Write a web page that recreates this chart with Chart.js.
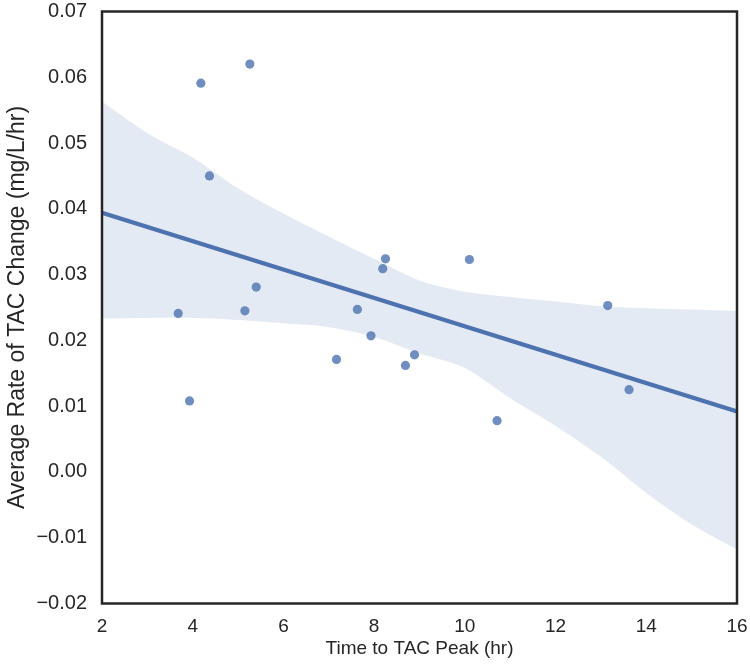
<!DOCTYPE html>
<html>
<head>
<meta charset="utf-8">
<script src="https://cdn.jsdelivr.net/npm/chart.js@4"></script>
<style>
  html, body { margin: 0; padding: 0; background: #ffffff; }
  #wrap { width: 750px; height: 672px; }
</style>
</head>
<body>
<div id="wrap"><canvas id="c" width="750" height="672"></canvas></div>
<script>
// ---- data ----
const peakHours = [4.18, 5.26, 4.37, 3.68, 3.93, 5.15, 5.40, 7.17, 7.63, 7.93, 8.19, 8.25, 8.69, 8.89, 10.10, 10.71, 13.15, 13.62];
const rateChange = [0.0591, 0.0620, 0.0450, 0.0241, 0.0108, 0.0245, 0.0281, 0.0171, 0.0247, 0.0207, 0.0309, 0.0324, 0.0162, 0.0178, 0.0323, 0.0078, 0.0253, 0.0125];

const fitX = [2, 16];
const fitY = [0.0394, 0.0092];

const bandX = [2, 3, 4, 5, 6, 7, 8, 9, 10, 11, 12, 13, 14, 15, 16];
const bandUpper = [0.0563, 0.0515, 0.0478, 0.0431, 0.0393, 0.0358, 0.0324, 0.0291, 0.0274, 0.0266, 0.0259, 0.0252, 0.0249, 0.0247, 0.0245];
const bandLower = [0.0233, 0.0234, 0.0234, 0.0231, 0.0226, 0.0220, 0.0205, 0.0180, 0.0158, 0.0112, 0.0070, 0.0023, -0.0032, -0.0080, -0.0118];

const xTicks = [2, 4, 6, 8, 10, 12, 14, 16];
const yTicks = [-0.02, -0.01, 0.00, 0.01, 0.02, 0.03, 0.04, 0.05, 0.06, 0.07];

const xTitle = 'Time to TAC Peak (hr)';
const yTitle = 'Average Rate of TAC Change (mg/L/hr)';

// ---- build datasets ----
const pts = peakHours.map((x, i) => ({ x: x, y: rateChange[i] }));
const fitPts = fitX.map((x, i) => ({ x: x, y: fitY[i] }));
const upPts = bandX.map((x, i) => ({ x: x, y: bandUpper[i] }));
const loPts = bandX.map((x, i) => ({ x: x, y: bandLower[i] }));

const INK = '#262626';
const FONT = "'Liberation Sans', Arial, Helvetica, sans-serif";

const frame = {
  id: 'frame',
  afterDatasetsDraw(chart) {
    const a = chart.chartArea, ctx = chart.ctx;
    ctx.save();
    ctx.strokeStyle = INK;
    ctx.lineWidth = 2.5;
    ctx.strokeRect(a.left, a.top, a.right - a.left, a.bottom - a.top);
    ctx.restore();
  }
};

new Chart(document.getElementById('c'), {
  type: 'line',
  data: {
    datasets: [
      { label: 'ci upper', data: upPts, borderWidth: 0, pointRadius: 0, fill: '+1',
        backgroundColor: 'rgba(76,114,176,0.15)', borderColor: 'rgba(0,0,0,0)', order: 3, tension: 0.3 },
      { label: 'ci lower', data: loPts, borderWidth: 0, pointRadius: 0, fill: false,
        borderColor: 'rgba(0,0,0,0)', order: 4, tension: 0.3 },
      { label: 'fit', data: fitPts, borderColor: '#4C72B0', borderWidth: 4.2, pointRadius: 0,
        fill: false, order: 2 },
      { label: 'points', data: pts, showLine: false, pointRadius: 4.6, pointHoverRadius: 4.6,
        pointBackgroundColor: 'rgba(76,114,176,0.8)', pointBorderWidth: 0,
        borderColor: 'rgba(0,0,0,0)', order: 1 }
    ]
  },
  options: {
    responsive: false,
    animation: false,
    devicePixelRatio: 1,
    layout: { padding: { top: 11.5, right: 13, left: 0, bottom: 0 } },
    plugins: { legend: { display: false }, tooltip: { enabled: false } },
    scales: {
      x: {
        type: 'linear', min: 2, max: 16,
        grid: { display: false, drawTicks: false },
        border: { display: false },
        afterBuildTicks: (s) => { s.ticks = xTicks.map(v => ({ value: v })); },
        afterFit: (s) => { s.height = 68.5; s.paddingLeft = 0; s.paddingRight = 0; },
        ticks: { color: INK, font: { family: FONT, size: 19 }, padding: 12, maxRotation: 0,
                 callback: (v) => String(v) },
        title: { display: true, text: xTitle, color: INK, font: { family: FONT, size: 19 },
                 padding: { top: 0, bottom: 12 } }
      },
      y: {
        type: 'linear', min: -0.02, max: 0.07,
        grid: { display: false, drawTicks: false },
        border: { display: false },
        afterBuildTicks: (s) => { s.ticks = yTicks.map(v => ({ value: v })); },
        afterFit: (s) => { s.width = 102; s.paddingTop = 0; s.paddingBottom = 0; },
        ticks: { color: INK, font: { family: FONT, size: 20 }, padding: 15,
                 callback: (v) => { const n = Math.abs(v) < 1e-9 ? 0 : v; return n.toFixed(2).replace('-', '\u2212'); } },
        title: { display: true, text: yTitle, color: INK, font: { family: FONT, size: 23 },
                 padding: { top: 4, bottom: 0 } }
      }
    }
  },
  plugins: [frame]
});
</script>
</body>
</html>
